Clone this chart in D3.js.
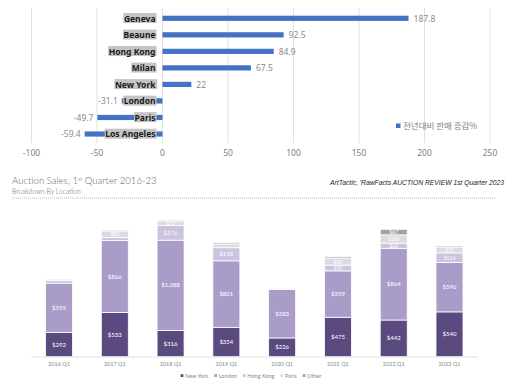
<!DOCTYPE html>
<html><head><meta charset="utf-8">
<script src="https://cdn.jsdelivr.net/npm/d3@7"></script>
<style>body{margin:0;background:#fff}svg{display:block}</style>
</head><body>
<svg id="c" width="512" height="382"></svg>
<script>
// ---- Top chart data ----
const cities = ["Geneva","Beaune","Hong Kong","Milan","New York","London","Paris","Los Angeles"];
const changes = [187.8, 92.5, 84.9, 67.5, 22, -31.1, -49.7, -59.4];
const topTicks = [-100,-50,0,50,100,150,200,250];
const topLegend = "전년대비 판매 증감%";

// ---- Bottom chart data ----
const quarters = ["2016 Q1","2017 Q1","2018 Q1","2019 Q1","2020 Q1","2021 Q1","2022 Q1","2023 Q1"];
const locations = ["New York","London","Hong Kong","Paris","Other"];
const newYork  = [292, 533, 316, 354, 226, 475, 442, 540];
const london   = [595, 866, 1088, 801, 583, 559, 864, 596];
const hongKong = [29, 35, 176, 158, 10, 70, 62, 114];
const paris    = [20, 80, 55, 45, 6, 85, 100, 70];
const other    = [8, 12, 12, 15, 2, 16, 67, 14];

const svg = d3.select("#c");

// ================= TOP CHART =================
const x = d3.scaleLinear().domain([-100,250]).range([31.5,490]);
const y = d3.scalePoint().domain(cities).range([18.3,134]);
const gTop = svg.append("g");

gTop.selectAll("line.grid").data(topTicks).join("line")
  .attr("x1",d=>x(d)).attr("x2",d=>x(d)).attr("y1",8).attr("y2",143)
  .attr("stroke","#d9d9d9").attr("stroke-width",0.8);

gTop.selectAll("text.tick").data(topTicks).join("text")
  .attr("x",d=>x(d)).attr("y",156).attr("text-anchor","middle")
  .attr("font-family","Noto Sans, sans-serif").attr("font-size",8.5).attr("fill","#7f7f7f")
  .text(d=>d);

const topData = cities.map((c,i)=>({c, v:changes[i]}));
gTop.selectAll("rect.bar").data(topData).join("rect")
  .attr("x",d=>x(Math.min(0,d.v))).attr("width",d=>Math.abs(x(d.v)-x(0)))
  .attr("y",d=>y(d.c)-2.6).attr("height",5.2).attr("fill","#4472C4");

gTop.selectAll("text.val").data(topData).join("text")
  .attr("x",d=>d.v>=0? x(d.v)+5 : x(d.v)-4)
  .attr("y",d=>y(d.c)+3.2)
  .attr("text-anchor",d=>d.v>=0?"start":"end")
  .attr("font-family","Noto Sans, sans-serif").attr("font-size",8.5).attr("fill","#8a8a8a")
  .text(d=>d.v);

// category labels with gray boxes
const lab = gTop.selectAll("g.lab").data(topData).join("g");
lab.append("text")
  .attr("x",155.5).attr("y",d=>y(d.c)+3.2).attr("text-anchor","end")
  .attr("font-family","Noto Sans, sans-serif").attr("font-weight","bold")
  .attr("font-size",8.5).attr("fill","#1a1a1a")
  .text(d=>d.c);
lab.each(function(){
  const g = d3.select(this);
  const bb = g.select("text").node().getBBox();
  g.insert("rect","text").attr("x",bb.x-0.5).attr("y",bb.y+0.5).attr("width",bb.width+1.5).attr("height",bb.height-1)
    .attr("fill","#c4c4c4");
});

gTop.append("rect").attr("x",396).attr("y",123.5).attr("width",4.5).attr("height",4.5).attr("fill","#4472C4");
gTop.append("text").attr("x",403).attr("y",129).attr("font-family","Noto Sans CJK KR, sans-serif")
  .attr("font-size",8.5).attr("fill","#7f7f7f").text(topLegend);

// ================= BOTTOM HEADER =================
const t = svg.append("text").attr("x",12).attr("y",184)
  .attr("font-family","Lato, sans-serif").attr("font-weight",300).attr("font-size",9.6).attr("fill","#666");
t.append("tspan").text("Auction Sales, 1");
t.append("tspan").attr("font-size",5.5).attr("dy",-3.5).text("st");
t.append("tspan").attr("dy",3.5).text(" Quarter 2016-23");
svg.append("text").attr("x",12).attr("y",194).attr("font-family","Lato, sans-serif").attr("font-weight",300)
  .attr("font-size",6.8).attr("fill","#666").text("Breakdown By Location");
svg.append("line").attr("x1",12).attr("x2",496).attr("y1",198).attr("y2",198)
  .attr("stroke","#999").attr("stroke-width",0.7).attr("stroke-dasharray","1,1");
const cite = svg.append("text").attr("x",330).attr("y",185).attr("font-family","Liberation Sans, sans-serif")
  .attr("font-style","italic").attr("font-size",7.4).attr("fill","#222")
  .text("ArtTactic, 'RawFacts AUCTION REVIEW 1st Quarter 2023");
{
  const w = cite.node().getComputedTextLength();
  const fs = Math.min(7.4, 7.4 * 174 / w);
  cite.attr("font-size", fs.toFixed(2));
}

// ================= BOTTOM CHART =================
const xb = d3.scalePoint().domain(quarters).range([59,449.5]);
const yb = d3.scaleLinear().domain([0,2000]).range([356.7,190.7]);
const colors = d3.scaleOrdinal().domain(locations).range(["#5b4a80","#a99cc8","#cbc3df","#dcdbe2","#a3a3a7"]);
const rows = quarters.map((q,i)=>({q,"New York":newYork[i],"London":london[i],"Hong Kong":hongKong[i],"Paris":paris[i],"Other":other[i]}));
const stack = d3.stack().keys(locations)(rows);
const bw = 27;
const gB = svg.append("g");

stack.forEach(layer=>{
  const key = layer.key;
  layer.forEach(d=>{
    const top = yb(d[1]), bot = yb(d[0]);
    gB.append("rect").attr("x",xb(d.data.q)-bw/2).attr("width",bw)
      .attr("y",top).attr("height",Math.max(0,bot-top))
      .attr("fill",colors(key)).attr("stroke","#fff").attr("stroke-width",0.8);
    const h = bot-top;
    if (h >= 4.5) {
      gB.append("text").attr("x",xb(d.data.q)).attr("y",(top+bot)/2+2)
        .attr("text-anchor","middle").attr("font-family","Lato, sans-serif")
        .attr("font-size", h>12?6:5).attr("fill","#fff")
        .text("$"+d3.format(",")(d.data[key]));
    }
  });
});

gB.append("line").attr("x1",31).attr("x2",478).attr("y1",357).attr("y2",357)
  .attr("stroke","#d9d9d9").attr("stroke-width",0.8);
gB.selectAll("text.q").data(quarters).join("text")
  .attr("x",d=>xb(d)).attr("y",366).attr("text-anchor","middle")
  .attr("font-family","Lato, sans-serif").attr("font-size",5.5).attr("fill","#888")
  .text(d=>d);

// legend: laid out sequentially
const leg = gB.append("g");
let cx = 0;
locations.forEach((k,i)=>{
  leg.append("rect").attr("x",cx).attr("y",374.2).attr("width",2.8).attr("height",2.8).attr("fill",colors(k));
  const tx = leg.append("text").attr("x",cx+4.5).attr("y",377.5).attr("font-family","Lato, sans-serif")
    .attr("font-size",5.5).attr("fill","#888").text(k);
  cx += 4.5 + tx.node().getComputedTextLength() + 6;
});
const legW = cx - 6;
leg.attr("transform",`translate(${251 - legW/2},0)`);
</script>
</body></html>
